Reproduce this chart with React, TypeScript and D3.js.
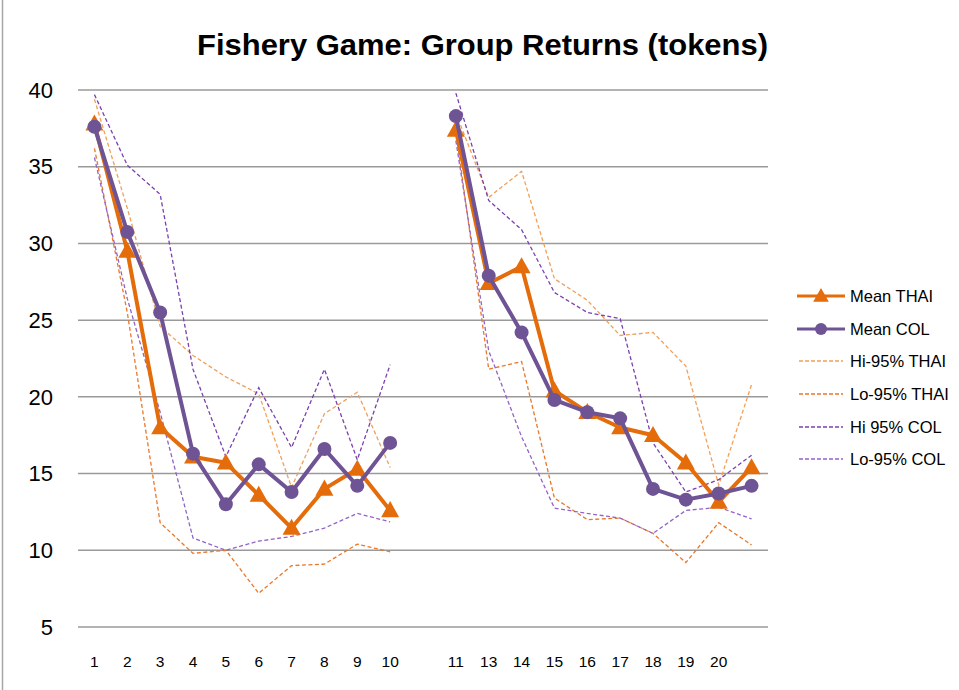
import React from "react";
import * as d3 from "d3";

const categories = ["1","2","3","4","5","6","7","8","9","10","","11","13","14","15","16","17","18","19","20",""];
const yTicks = [5, 10, 15, 20, 25, 30, 35, 40];

const meanThai = [37.8, 29.5, 18.0, 16.1, 15.7, 13.6, 11.45, 14.0, 15.3, 12.6, null, 37.4, 27.4, 28.5, 20.4, 19.0, 18.0, 17.5, 15.7, 13.15, 15.4];
const meanCol = [37.6, 30.75, 25.5, 16.3, 13.0, 15.6, 13.8, 16.6, 14.2, 17.0, null, 38.3, 27.9, 24.2, 19.8, 19.0, 18.6, 14.0, 13.3, 13.7, 14.2];
const hiThai = [39.4, 32.3, 24.6, 22.7, 21.3, 20.2, 14.1, 18.9, 20.3, 15.4, null, 38.5, 33.0, 34.7, 27.7, 26.3, 24.0, 24.2, 22.0, 14.25, 20.8];
const loThai = [36.2, 25.5, 11.8, 9.8, 10.0, 7.2, 9.0, 9.1, 10.4, 9.9, null, 37.3, 21.8, 22.3, 13.4, 12.0, 12.1, 11.1, 9.2, 11.8, 10.35];
const hiCol = [39.7, 35.1, 33.2, 21.8, 16.1, 20.6, 16.7, 21.8, 15.9, 22.1, null, 39.8, 32.8, 30.9, 26.8, 25.5, 25.1, 17.0, 13.8, 14.6, 16.2];
const loCol = [35.6, 26.4, 19.0, 10.8, 10.0, 10.6, 10.9, 11.45, 12.4, 11.85, null, 36.7, 23.0, 17.4, 12.75, 12.4, 12.1, 11.1, 12.6, 12.8, 12.05];

const seriesNames = ["Mean THAI", "Mean COL", "Hi-95% THAI", "Lo-95% THAI", "Hi 95% COL", "Lo-95% COL"];

const W = 959, H = 690;
const font = "'Liberation Sans', Arial, sans-serif";

const ORANGE = "#E46C0A";
const PURPLE = "#6E5494";
const HI_THAI = "#F0A05A";
const LO_THAI = "#E8782A";
const HI_COL = "#7A40B0";
const LO_COL = "#9363C8";

export default function App() {
  const x = d3.scaleBand<number>().domain(d3.range(categories.length)).range([78, 768]);
  const y = d3.scaleLinear().domain([5, 40]).range([627, 90]);
  const cx = (i: number) => (x(i) as number) + x.bandwidth() / 2;

  const line = d3.line<number | null>()
    .defined(d => d !== null)
    .x((_, i) => cx(i))
    .y(d => y(d as number));

  const dashed = [
    { data: hiThai, color: HI_THAI, name: seriesNames[2] },
    { data: loThai, color: LO_THAI, name: seriesNames[3] },
    { data: hiCol, color: HI_COL, name: seriesNames[4] },
    { data: loCol, color: LO_COL, name: seriesNames[5] },
  ];

  const tri = (px: number, py: number, s: number) =>
    `M${px},${py - s * 0.62}L${px + s * 0.6},${py + s * 0.45}L${px - s * 0.6},${py + s * 0.45}Z`;

  const legendY = [296, 329, 361, 394, 427, 459];

  return (
    <svg width={W} height={H} style={{ position: "absolute", left: 0, top: 0, background: "#fff" }} fontFamily={font}>
      <rect x={0} y={0} width={W} height={H} fill="#fff" />
      <line x1={2.5} x2={2.5} y1={0} y2={H} stroke="#a6a6a6" strokeWidth={1.5} />
      <text x={197} y={55} textLength={571} lengthAdjust="spacingAndGlyphs" fontSize={29} fontWeight="bold" fill="#000">
        Fishery Game: Group Returns (tokens)
      </text>
      {yTicks.map(t => (
        <g key={t}>
          <line x1={78} x2={768} y1={y(t)} y2={y(t)} stroke="#9a9a9a" strokeWidth={1.5} />
          <text x={53} y={y(t)} dy="0.35em" textAnchor="end" fontSize={22} fill="#000">{t}</text>
        </g>
      ))}
      {categories.map((c, i) => (
        <text key={i} x={cx(i)} y={662} dy="0.35em" textAnchor="middle" fontSize={15.5} fill="#000">{c}</text>
      ))}
      {dashed.map(s => (
        <path key={s.name} d={line(s.data) || ""} fill="none" stroke={s.color} strokeWidth={1.3} strokeDasharray="4,2.5" />
      ))}
      <path d={line(meanThai) || ""} fill="none" stroke={ORANGE} strokeWidth={4} strokeLinejoin="round" />
      {meanThai.map((v, i) => v === null ? null : (
        <path key={"t" + i} d={tri(cx(i), y(v), 15)} fill={ORANGE} />
      ))}
      <path d={line(meanCol) || ""} fill="none" stroke={PURPLE} strokeWidth={4} strokeLinejoin="round" />
      {meanCol.map((v, i) => v === null ? null : (
        <circle key={"c" + i} cx={cx(i)} cy={y(v)} r={7} fill={PURPLE} />
      ))}
      {/* legend */}
      <g>
        <line x1={797} x2={845} y1={legendY[0]} y2={legendY[0]} stroke={ORANGE} strokeWidth={3} />
        <path d={tri(821, legendY[0], 13)} fill={ORANGE} />
        <text x={850} y={legendY[0]} dy="0.35em" fontSize={16.5}>{seriesNames[0]}</text>
        <line x1={797} x2={845} y1={legendY[1]} y2={legendY[1]} stroke={PURPLE} strokeWidth={3} />
        <circle cx={821} cy={legendY[1]} r={6} fill={PURPLE} />
        <text x={850} y={legendY[1]} dy="0.35em" fontSize={16.5}>{seriesNames[1]}</text>
        {dashed.map((s, k) => (
          <g key={s.name}>
            <line x1={799} x2={843} y1={legendY[k + 2]} y2={legendY[k + 2]} stroke={s.color} strokeWidth={1.3} strokeDasharray="4,2" />
            <text x={850} y={legendY[k + 2]} dy="0.35em" fontSize={16.5}>{s.name}</text>
          </g>
        ))}
      </g>
    </svg>
  );
}
